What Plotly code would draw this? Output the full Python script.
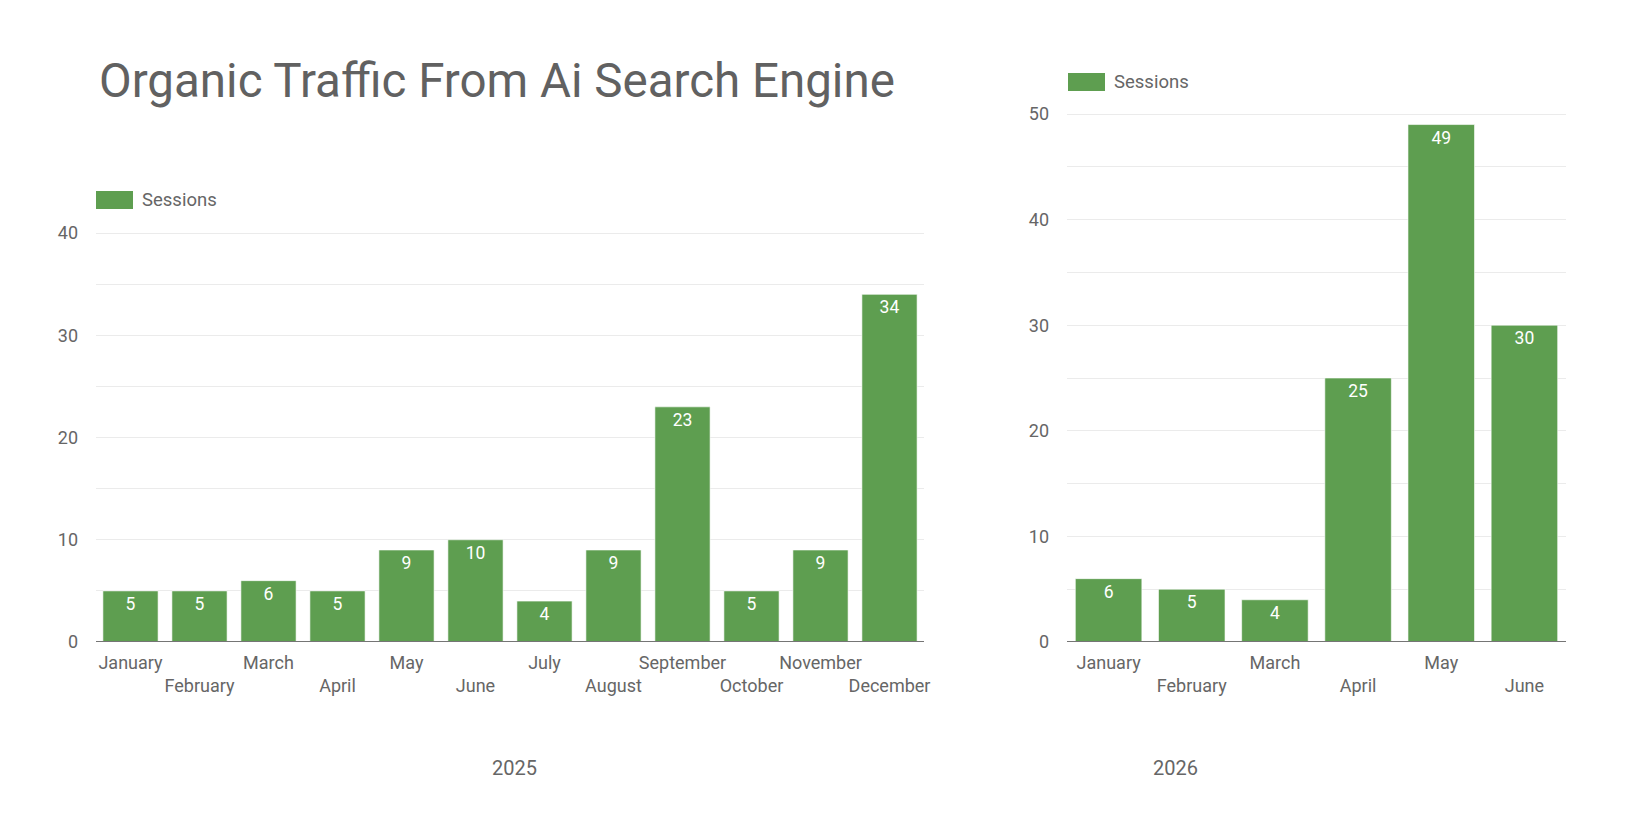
import plotly.graph_objects as go

months_2025 = ["January", "February", "March", "April", "May", "June",
               "July", "August", "September", "October", "November", "December"]
sessions_2025 = [5, 5, 6, 5, 9, 10, 4, 9, 23, 5, 9, 34]

months_2026 = ["January", "February", "March", "April", "May", "June"]
sessions_2026 = [6, 5, 4, 25, 49, 30]

title_text = "Organic Traffic From Ai Search Engine"
series_name = "Sessions"
year_titles = ["2025", "2026"]

GREEN = "#5e9e50"
TXT = "#666666"
FONT = "Roboto"
W, H = 1632, 830

def stagger(labels):
    return [lab if i % 2 == 0 else "<br>" + lab for i, lab in enumerate(labels)]

fig = go.Figure()
fig.add_trace(go.Bar(
    x=months_2025, y=sessions_2025, name=series_name, xaxis="x", yaxis="y",
    marker=dict(color=GREEN, line=dict(color="rgba(255,255,255,0.6)", width=1)),
    text=sessions_2025, textposition="inside", insidetextanchor="end",
    textangle=0, constraintext="none",
    textfont=dict(color="white", size=17.5, family=FONT), showlegend=False,
))
fig.add_trace(go.Bar(
    x=months_2026, y=sessions_2026, name=series_name, xaxis="x2", yaxis="y2",
    marker=dict(color=GREEN, line=dict(color="rgba(255,255,255,0.6)", width=1)),
    text=sessions_2026, textposition="inside", insidetextanchor="end",
    textangle=0, constraintext="none",
    textfont=dict(color="white", size=17.5, family=FONT), showlegend=False,
))

# plot area pixel frame
L, R, T, B = 96, 1566, 100, 642
pw, ph = R - L, B - T
def px(x):
    return (x - L) / pw
def py(y):
    return (B - y) / ph

# axis tops: value shown at given pixel row, with a little headroom so the top grid line is drawn
PAD = 1.01
left_max, left_top_px = 40, 233
right_max, right_top_px = 50, 114
left_dom_top = py(B - (B - left_top_px) * PAD)
right_dom_top = py(B - (B - right_top_px) * PAD)

axis_common = dict(
    showline=False, zeroline=False, ticks="",
    tickfont=dict(size=18, color=TXT, family=FONT),
    fixedrange=True,
)
xcommon = dict(axis_common, showgrid=False, tickmode="array", ticklabelstandoff=8,
               tickangle=0)
ycommon = dict(axis_common, showgrid=True, gridcolor="#ebebeb", gridwidth=1,
               dtick=10, tick0=0, ticklabelstandoff=17,
               minor=dict(dtick=5, showgrid=True, gridcolor="#ebebeb", gridwidth=1))

fig.update_layout(
    width=W, height=H,
    margin=dict(l=L, r=W - R, t=T, b=H - B),
    paper_bgcolor="white", plot_bgcolor="white",
    bargap=0.2,
    showlegend=False,
    font=dict(family=FONT, color=TXT),
    title=dict(text=title_text, x=99 / W, xanchor="left", y=1 - 80 / H, yanchor="middle",
               xref="container", yref="container",
               font=dict(size=47.5, color="#616161", family=FONT)),
    xaxis=dict(xcommon, domain=[0, px(924)], anchor="y",
               tickvals=months_2025, ticktext=stagger(months_2025)),
    yaxis=dict(ycommon, domain=[0, left_dom_top], anchor="x", range=[0, left_max * PAD]),
    xaxis2=dict(xcommon, domain=[px(1067), 1], anchor="y2",
                tickvals=months_2026, ticktext=stagger(months_2026)),
    yaxis2=dict(ycommon, domain=[0, right_dom_top], anchor="x2", range=[0, right_max * PAD]),
)

# baseline lines at zero
for xa, ya in (("x", "y"), ("x2", "y2")):
    fig.add_shape(type="line", xref=xa + " domain", yref=ya, x0=0, x1=1, y0=0, y1=0,
                  line=dict(color="#757575", width=2), layer="above")

# x-axis titles (year)
for xa, xpos, label in (("x", 0.505, year_titles[0]), ("x2", 0.218, year_titles[1])):
    fig.add_annotation(xref=xa + " domain", yref="paper", x=xpos, y=py(768),
                       xanchor="center", yanchor="middle", showarrow=False,
                       text=label, font=dict(size=20, color=TXT, family=FONT))

# legends drawn as swatch + label
for (x0, y0) in ((96, 191), (1068, 73)):
    fig.add_shape(type="rect", xref="paper", yref="paper",
                  x0=px(x0), x1=px(x0 + 37), y0=py(y0), y1=py(y0 + 18),
                  fillcolor=GREEN, line=dict(width=0))
    fig.add_annotation(xref="paper", yref="paper", x=px(x0 + 44), y=py(y0 + 9),
                       xanchor="left", yanchor="middle", showarrow=False,
                       text=series_name, font=dict(size=18.5, color=TXT, family=FONT))

fig.write_html("out.html")
